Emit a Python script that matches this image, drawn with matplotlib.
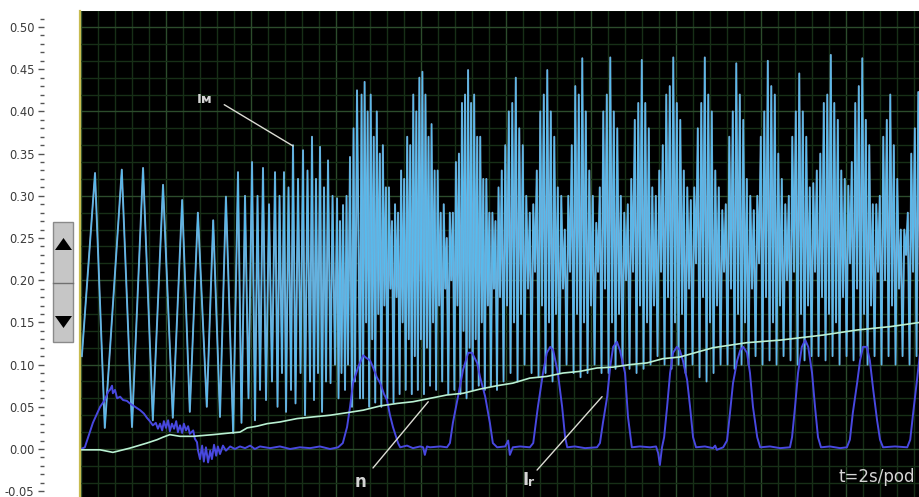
import numpy as np
import matplotlib
matplotlib.use("Agg")
import matplotlib.pyplot as plt
from matplotlib.patches import Rectangle, Polygon
from matplotlib.lines import Line2D
from matplotlib.ticker import FormatStrFormatter

plt.rcParams['axes.unicode_minus'] = False
plt.rcParams['font.family'] = ['DejaVu Sans']

# ---------------- data (time in s, values in A) ----------------
# I_M, start-up part: explicit vertices
im_start_t = [0.02, 0.33, 0.56, 0.96, 1.20, 1.46, 1.69, 1.93, 2.16, 2.38, 2.56, 2.75, 2.96, 3.11,
              3.27, 3.41, 3.58, 3.694, 3.776, 3.859, 3.941, 4.024, 4.094, 4.153, 4.212, 4.282,
              4.353, 4.424, 4.494, 4.565, 4.624, 4.671, 4.729, 4.776, 4.824, 4.882, 4.941, 4.988,
              5.047, 5.106, 5.165, 5.224, 5.271, 5.329, 5.388, 5.435, 5.482, 5.529, 5.576, 5.624,
              5.671, 5.718, 5.765, 5.812, 5.871, 5.918, 5.976, 6.024, 6.059, 6.094, 6.129, 6.165,
              6.212, 6.247, 6.282, 6.329, 6.376, 6.412, 6.447, 6.494, 6.565]
im_start_v = [0.110, 0.327, 0.025, 0.331, 0.026, 0.333, 0.034, 0.313, 0.037, 0.295, 0.044, 0.280,
              0.050, 0.271, 0.038, 0.299, 0.019, 0.328, 0.031, 0.300, 0.060, 0.340, 0.034, 0.300,
              0.070, 0.333, 0.058, 0.290, 0.080, 0.328, 0.050, 0.300, 0.090, 0.328, 0.044, 0.310,
              0.070, 0.360, 0.054, 0.320, 0.090, 0.354, 0.040, 0.330, 0.080, 0.370, 0.058, 0.320,
              0.090, 0.358, 0.044, 0.310, 0.080, 0.342, 0.078, 0.300, 0.100, 0.297, 0.060, 0.270,
              0.090, 0.289, 0.070, 0.300, 0.100, 0.346, 0.050, 0.380, 0.080, 0.425, 0.060]

# I_M, middle part: one peak and one trough per cycle, evenly sampled
im_mid_span = (6.565, 9.859)
im_mid_peaks = [0.420, 0.435, 0.400, 0.420, 0.370, 0.400, 0.350, 0.360, 0.310, 0.310, 0.270,
                0.290, 0.280, 0.330, 0.320, 0.370, 0.360, 0.420, 0.400, 0.440, 0.447, 0.420,
                0.370, 0.385, 0.330, 0.330, 0.280, 0.290, 0.250, 0.280, 0.280, 0.340, 0.350,
                0.410, 0.420, 0.449, 0.410, 0.420, 0.370, 0.370, 0.320, 0.320, 0.280, 0.280,
                0.270, 0.310]
im_mid_troughs = [0.060, 0.150, 0.050, 0.130, 0.055, 0.160, 0.050, 0.170, 0.060, 0.190, 0.055,
                  0.180, 0.065, 0.150, 0.070, 0.130, 0.065, 0.110, 0.070, 0.130, 0.065, 0.120,
                  0.075, 0.150, 0.070, 0.170, 0.080, 0.190, 0.065, 0.200, 0.070, 0.170, 0.065,
                  0.140, 0.060, 0.120, 0.070, 0.130, 0.075, 0.150, 0.070, 0.170, 0.075, 0.190,
                  0.070, 0.180]

# I_M, end part
im_end_span = (9.859, 19.741)
im_end_peaks = [
    0.330, 0.360, 0.400, 0.410, 0.440, 0.380, 0.360, 0.300, 0.280, 0.290,
    0.330, 0.400, 0.420, 0.449, 0.400, 0.370, 0.310, 0.300, 0.260, 0.300,
    0.360, 0.430, 0.420, 0.463, 0.400, 0.330, 0.300, 0.268, 0.310, 0.400,
    0.420, 0.464, 0.400, 0.380, 0.300, 0.280, 0.290, 0.320, 0.390, 0.410,
    0.461, 0.410, 0.380, 0.310, 0.300, 0.330, 0.360, 0.420, 0.430, 0.464,
    0.410, 0.390, 0.330, 0.310, 0.295, 0.310, 0.380, 0.410, 0.464, 0.420,
    0.400, 0.330, 0.310, 0.283, 0.290, 0.370, 0.400, 0.457, 0.420, 0.390,
    0.320, 0.300, 0.283, 0.300, 0.370, 0.400, 0.460, 0.430, 0.420, 0.350,
    0.320, 0.290, 0.300, 0.370, 0.400, 0.445, 0.400, 0.370, 0.310, 0.315,
    0.330, 0.350, 0.410, 0.420, 0.467, 0.410, 0.390, 0.330, 0.320, 0.312,
    0.340, 0.410, 0.430, 0.463, 0.390, 0.360, 0.290, 0.290, 0.300, 0.370,
    0.390, 0.420, 0.360, 0.320, 0.260, 0.260, 0.280, 0.350, 0.380, 0.423]
im_end_troughs = [
    0.080, 0.170, 0.090, 0.150, 0.080, 0.160, 0.100, 0.190, 0.090, 0.210,
    0.085, 0.170, 0.090, 0.150, 0.080, 0.160, 0.090, 0.190, 0.100, 0.210,
    0.090, 0.160, 0.085, 0.150, 0.090, 0.170, 0.100, 0.210, 0.090, 0.190,
    0.090, 0.150, 0.095, 0.160, 0.100, 0.200, 0.095, 0.210, 0.090, 0.170,
    0.095, 0.150, 0.100, 0.170, 0.110, 0.210, 0.100, 0.180, 0.095, 0.150,
    0.100, 0.160, 0.090, 0.190, 0.100, 0.220, 0.085, 0.180, 0.080, 0.150,
    0.090, 0.170, 0.100, 0.210, 0.100, 0.190, 0.095, 0.160, 0.100, 0.150,
    0.100, 0.190, 0.110, 0.220, 0.100, 0.180, 0.105, 0.150, 0.100, 0.170,
    0.110, 0.200, 0.105, 0.210, 0.100, 0.160, 0.105, 0.170, 0.110, 0.210,
    0.110, 0.180, 0.105, 0.160, 0.110, 0.150, 0.100, 0.180, 0.110, 0.220,
    0.105, 0.190, 0.110, 0.160, 0.100, 0.170, 0.110, 0.210, 0.100, 0.200,
    0.110, 0.170, 0.100, 0.190, 0.110, 0.230, 0.100, 0.210, 0.110, 0.170]

# n (speed)
n_t = [0.00, 0.45, 0.75, 1.15, 1.55, 1.79, 1.93, 2.09, 2.33, 2.64, 3.11, 3.51, 3.74, 3.91,
       4.14, 4.38, 4.68, 5.08, 5.46, 5.86, 6.26, 6.64, 7.04, 7.44, 7.81, 8.21, 8.61, 8.99,
       9.39, 9.79, 10.16, 10.56, 10.96, 11.34, 11.74, 12.14, 12.52, 12.92, 13.32, 13.69,
       14.09, 14.87, 15.67, 16.45, 17.46, 18.26, 19.04, 19.74]
n_v = [-0.001, -0.001, -0.004, 0.001, 0.007, 0.011, 0.014, 0.017, 0.015, 0.015, 0.017, 0.019,
       0.020, 0.025, 0.027, 0.030, 0.032, 0.036, 0.038, 0.040, 0.043, 0.046, 0.051, 0.054,
       0.056, 0.060, 0.064, 0.066, 0.071, 0.075, 0.078, 0.084, 0.086, 0.090, 0.092, 0.096,
       0.097, 0.100, 0.102, 0.107, 0.109, 0.120, 0.126, 0.129, 0.135, 0.141, 0.145, 0.150]

# I_r (rotor current)
ir_t = [0.00, 0.09, 0.28, 0.45, 0.56, 0.64, 0.68, 0.73, 0.75, 0.80, 0.85, 0.92, 0.99, 1.08,
        1.15, 1.27, 1.39, 1.48, 1.55, 1.62, 1.69, 1.76, 1.81, 1.86, 1.91, 1.95, 2.00, 2.05,
        2.09, 2.14, 2.19, 2.24, 2.28, 2.33, 2.38, 2.42, 2.47, 2.52, 2.56, 2.64, 2.68, 2.73,
        2.75, 2.80, 2.85, 2.89, 2.94, 2.99, 3.04, 3.08, 3.13, 3.18, 3.22, 3.27, 3.34, 3.41,
        3.51, 3.62, 3.74, 3.86, 3.98, 4.09, 4.21, 4.45, 4.68, 4.92, 5.15, 5.39, 5.62, 5.86,
        6.05, 6.16, 6.26, 6.33, 6.40, 6.52, 6.64, 6.71, 6.80, 6.87, 6.96, 7.04, 7.13, 7.20,
        7.27, 7.34, 7.46, 7.51, 7.67, 7.81, 7.98, 8.05, 8.09, 8.14, 8.21, 8.45, 8.61, 8.68,
        8.75, 8.87, 8.99, 9.11, 9.20, 9.32, 9.39, 9.51, 9.62, 9.69, 9.79, 9.98, 10.05, 10.09,
        10.16, 10.33, 10.56, 10.64, 10.75, 10.87, 10.96, 11.04, 11.11, 11.22, 11.32, 11.39,
        11.44, 11.62, 11.86, 12.14, 12.21, 12.28, 12.38, 12.45, 12.52, 12.61, 12.68, 12.80,
        12.87, 12.96, 13.15, 13.39, 13.53, 13.58, 13.62, 13.67, 13.72, 13.79, 13.86, 13.93,
        14.02, 14.09, 14.16, 14.26, 14.33, 14.40, 14.47, 14.68, 14.87, 14.92, 14.96, 15.11,
        15.20, 15.27, 15.34, 15.44, 15.51, 15.58, 15.67, 15.74, 15.81, 15.91, 15.98, 16.21,
        16.45, 16.68, 16.73, 16.80, 16.87, 16.96, 17.04, 17.11, 17.20, 17.27, 17.34, 17.41,
        17.62, 17.86, 18.02, 18.09, 18.16, 18.26, 18.33, 18.40, 18.49, 18.56, 18.64, 18.73,
        18.80, 18.87, 19.15, 19.44, 19.51, 19.58, 19.67, 19.74]
ir_v = [0.000, 0.002, 0.031, 0.050, 0.058, 0.068, 0.070, 0.075, 0.066, 0.070, 0.060, 0.062,
        0.058, 0.057, 0.054, 0.050, 0.046, 0.042, 0.037, 0.033, 0.028, 0.031, 0.024, 0.030,
        0.022, 0.033, 0.025, 0.034, 0.021, 0.030, 0.024, 0.033, 0.020, 0.028, 0.019, 0.030,
        0.022, 0.027, 0.018, 0.022, 0.012, 0.008, -0.001, -0.012, 0.004, -0.015, 0.002,
        -0.016, -0.002, -0.012, 0.005, -0.008, 0.003, -0.006, 0.004, -0.002, 0.003, 0.000,
        0.003, 0.001, 0.004, 0.000, 0.003, 0.001, 0.003, 0.000, 0.002, 0.001, 0.003, 0.000,
        0.002, 0.007, 0.026, 0.050, 0.078, 0.097, 0.111, 0.108, 0.105, 0.097, 0.085, 0.078,
        0.065, 0.058, 0.040, 0.026, 0.007, 0.002, 0.004, 0.001, 0.003, 0.002, -0.007, 0.003,
        0.002, 0.003, 0.002, 0.007, 0.031, 0.062, 0.094, 0.114, 0.114, 0.102, 0.085, 0.062,
        0.031, 0.007, 0.002, 0.003, 0.010, -0.007, 0.002, 0.003, 0.002, 0.007, 0.050, 0.090,
        0.114, 0.121, 0.117, 0.090, 0.050, 0.014, 0.002, 0.003, 0.001, 0.002, 0.007, 0.031,
        0.062, 0.097, 0.121, 0.127, 0.117, 0.090, 0.038, 0.002, 0.003, 0.002, 0.003, -0.005,
        -0.019, 0.002, 0.014, 0.050, 0.090, 0.114, 0.121, 0.117, 0.105, 0.082, 0.050, 0.014,
        0.002, 0.003, 0.001, 0.004, -0.001, 0.002, 0.010, 0.043, 0.078, 0.105, 0.117, 0.121,
        0.114, 0.090, 0.050, 0.014, 0.002, 0.003, 0.001, 0.002, 0.014, 0.050, 0.090, 0.121,
        0.129, 0.121, 0.090, 0.050, 0.014, 0.002, 0.003, 0.001, 0.002, 0.011, 0.043, 0.078,
        0.105, 0.121, 0.121, 0.105, 0.070, 0.034, 0.011, 0.002, 0.003, 0.002, 0.011, 0.043,
        0.082, 0.114]

y_major_ticks = [-0.05, 0.00, 0.05, 0.10, 0.15, 0.20, 0.25, 0.30, 0.35, 0.40, 0.45, 0.50]
t_span = (0.0, 19.74)
y_span = (-0.0569, 0.519)


def cycles(span, peaks, troughs):
    vals = np.empty(len(peaks) + len(troughs))
    vals[0::2] = peaks
    vals[1::2] = troughs
    t = np.linspace(span[0], span[1], len(vals) + 1)[1:]
    return t, vals


tm, vm = cycles(im_mid_span, im_mid_peaks, im_mid_troughs)
te, ve = cycles(im_end_span, im_end_peaks, im_end_troughs)
im_t = np.concatenate([im_start_t, tm, te])
im_v = np.concatenate([im_start_v, vm, ve])

# ---------------- figure ----------------
W, H = 920, 497
fig = plt.figure(figsize=(W / 100, H / 100), dpi=100)
fig.patch.set_facecolor('white')
ax = fig.add_axes([81 / W, 0, 1 - 81 / W, 1 - 11 / H])
ax.set_facecolor('black')
ax.set_xlim(*t_span)
ax.set_ylim(*y_span)

# oscilloscope grid
for xv in np.arange(0, 19.8, 0.4):
    major = abs(xv / 2 - round(xv / 2)) < 1e-6
    ax.axvline(xv, color='#2c4c2c' if major else '#172f17', lw=1.0, zorder=0)
for yv in np.arange(-0.04, 0.521, 0.02):
    major = abs(yv / 0.1 - round(yv / 0.1)) < 1e-6
    ax.axhline(yv, color='#2c4c2c' if major else '#172f17', lw=1.0, zorder=0)

# traces
ax.plot(im_t, im_v, color='#7aa2c6', lw=1.4, zorder=2)
ax.plot(im_t, im_v, color='#55bcf0', lw=0.75, zorder=2.1)
ax.plot(ir_t, ir_v, color='#4848e0', lw=1.4, zorder=3)
ax.plot(n_t, n_v, color='#b9f0d2', lw=1.2, zorder=4)

# annotations
lc = '#dcdcd4'
ax.annotate('', xy=(4.99, 0.359), xytext=(3.37, 0.408),
            arrowprops=dict(arrowstyle='-', color=lc, lw=1.0, shrinkA=0, shrinkB=0), zorder=5)
ax.annotate('', xy=(8.17, 0.056), xytext=(6.87, -0.0225),
            arrowprops=dict(arrowstyle='-', color=lc, lw=1.0, shrinkA=0, shrinkB=0), zorder=5)
ax.annotate('', xy=(12.26, 0.062), xytext=(10.73, -0.025),
            arrowprops=dict(arrowstyle='-', color=lc, lw=1.0, shrinkA=0, shrinkB=0), zorder=5)

tc = '#d4d4d4'
ax.text(2.73, 0.4105, 'Iм', color=tc, fontsize=9.5, fontweight='bold', ha='left', va='baseline', zorder=6)
ax.text(6.565, -0.045, 'n', color=tc, fontsize=12, fontweight='bold', ha='center', va='baseline', zorder=6)
ax.text(10.45, -0.0427, 'I', color=tc, fontsize=12, fontweight='bold', ha='center', va='baseline', zorder=6)
ax.text(10.60, -0.0437, 'r', color=tc, fontsize=9, fontweight='bold', ha='center', va='baseline', zorder=6)
ax.text(18.73, -0.039, 't=2s/pod', color=tc, fontsize=12, ha='center', va='baseline', zorder=6)

# axes / ticks
for s in ax.spines.values():
    s.set_visible(False)
ax.spines['left'].set_position(('outward', 27))
ax.set_xticks([])
ax.set_yticks(y_major_ticks)
ax.set_yticks(np.arange(-0.05, 0.511, 0.01), minor=True)
ax.yaxis.set_major_formatter(FormatStrFormatter('%.2f'))
ax.tick_params(axis='y', which='major', length=4.5, width=1.0, color='#555555', pad=2,
               labelsize=8.3, labelcolor='#3a3a3a')
ax.tick_params(axis='y', which='minor', length=3, width=1.0, color='#555555')

# yellow left border of the screen
fig.add_artist(Line2D([80.5 / W, 80.5 / W], [0, 1 - 11 / H], color='#c8bc50', lw=1.6))


def fx(p):
    return p / W


def fy(p):
    return 1 - p / H


# scroll widget
fig.add_artist(Rectangle((fx(53), fy(342)), 20 / W, 120 / H, facecolor='#c6c6c6',
                         edgecolor='#8a8a8a', lw=1.0, transform=fig.transFigure))
fig.add_artist(Line2D([fx(53), fx(73)], [fy(283), fy(283)], color='#707070', lw=1.0))
fig.add_artist(Polygon([(fx(55), fy(250)), (fx(72), fy(250)), (fx(63.5), fy(238))],
                       closed=True, facecolor='black', edgecolor='none', transform=fig.transFigure))
fig.add_artist(Polygon([(fx(55), fy(316)), (fx(72), fy(316)), (fx(63.5), fy(328))],
                       closed=True, facecolor='black', edgecolor='none', transform=fig.transFigure))

fig.savefig('out.png', dpi=100, facecolor='white')
